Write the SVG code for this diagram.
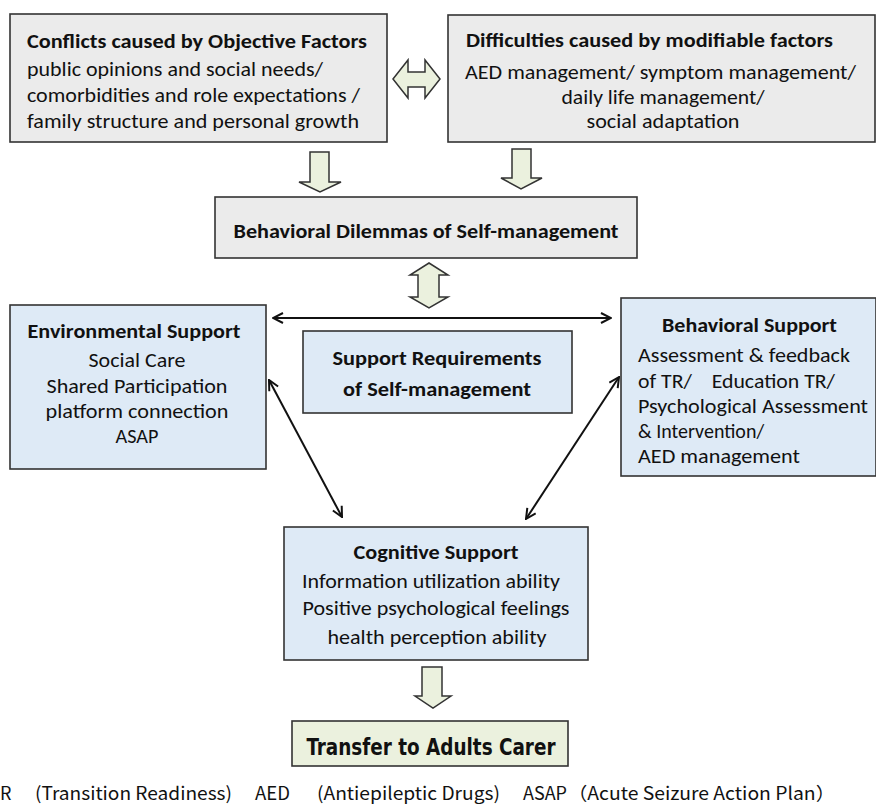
<svg xmlns="http://www.w3.org/2000/svg" width="876" height="806" viewBox="0 0 876 806">
<style>
.gray{fill:#ebebeb;stroke:#333;stroke-width:1.6}
.blue{fill:#deeaf6;stroke:#333;stroke-width:1.6}
.green{fill:#ebf1de;stroke:#333;stroke-width:1.6}
.blk{fill:#ebf1de;stroke:#333;stroke-width:1.5;stroke-linejoin:miter}
text{font-family:Carlito,"Open Sans","Liberation Sans",sans-serif;font-size:20px;fill:#111}
.b{font-weight:bold}
.c{text-anchor:middle}
.tr{font-family:"DejaVu Sans Condensed","Noto Sans CJK SC",sans-serif;font-weight:bold;font-size:23px}
.ft{font-family:"Noto Sans CJK SC","DejaVu Sans Condensed",sans-serif;font-size:18px}
.ln{stroke:#111;stroke-width:2;fill:none}
</style>
<defs>
<marker id="ah" viewBox="0 0 12 12" refX="11" refY="6" markerWidth="12" markerHeight="12" markerUnits="userSpaceOnUse" orient="auto-start-reverse">
<path d="M1,1 L11,6 L1,11" fill="none" stroke="#111" stroke-width="2"/>
</marker>
</defs>
<rect width="876" height="806" fill="#fff"/>

<g id="connectors">
<polygon class="blk" points="393,79 408,60 408,72 425,72 425,60 440,79 425,98 425,87 408,87 408,98"/>
<polygon class="blk" points="310,152 329,152 329,182 341,182 320,192 299,182 310,182"/>
<polygon class="blk" points="512,149 531,149 531,178 542,178 521,189 501,178 512,178"/>
<polygon class="blk" points="429,263 448,275 439,275 439,297 448,297 429,308 410,297 418,297 418,275 410,275"/>
<polygon class="blk" points="422,667 442,667 442,696 451,696 433,708 415,696 422,696"/>
<line class="ln" x1="273" y1="318" x2="611" y2="318" marker-start="url(#ah)" marker-end="url(#ah)"/>
<line class="ln" x1="269" y1="380" x2="342" y2="517" marker-start="url(#ah)" marker-end="url(#ah)"/>
<line class="ln" x1="619" y1="377" x2="526" y2="519" marker-start="url(#ah)" marker-end="url(#ah)"/>
</g>

<g id="objective">
<rect class="gray" x="10" y="14" width="377" height="128"/>
<text class="b" x="27" y="48" textLength="340" lengthAdjust="spacingAndGlyphs">Conflicts caused by Objective Factors</text>
<text x="27" y="76" textLength="296" lengthAdjust="spacingAndGlyphs">public opinions and social needs/</text>
<text x="27" y="102" textLength="333" lengthAdjust="spacingAndGlyphs">comorbidities and role expectations /</text>
<text x="27" y="128" textLength="332" lengthAdjust="spacingAndGlyphs">family structure and personal growth</text>
</g>

<g id="modifiable">
<rect class="gray" x="448" y="15" width="427" height="127"/>
<text class="b" x="466" y="47" textLength="367" lengthAdjust="spacingAndGlyphs">Difficulties caused by modifiable factors</text>
<text x="465" y="79" textLength="391" lengthAdjust="spacingAndGlyphs">AED management/ symptom management/</text>
<text class="c" x="663" y="104" textLength="203" lengthAdjust="spacingAndGlyphs">daily life management/</text>
<text class="c" x="663" y="128" textLength="153" lengthAdjust="spacingAndGlyphs">social adaptation</text>
</g>

<g id="dilemmas">
<rect class="gray" x="215" y="197" width="422" height="61"/>
<text class="b c" x="426" y="238" textLength="385" lengthAdjust="spacingAndGlyphs">Behavioral Dilemmas of Self-management</text>
</g>

<g id="environmental">
<rect class="blue" x="10" y="305" width="256" height="164"/>
<text class="b c" x="134" y="338" textLength="213" lengthAdjust="spacingAndGlyphs">Environmental Support</text>
<text class="c" x="137" y="367" textLength="97" lengthAdjust="spacingAndGlyphs">Social Care</text>
<text class="c" x="137" y="393" textLength="181" lengthAdjust="spacingAndGlyphs">Shared Participation</text>
<text class="c" x="137" y="418" textLength="183" lengthAdjust="spacingAndGlyphs">platform connection</text>
<text class="c" x="137" y="443" textLength="43" lengthAdjust="spacingAndGlyphs">ASAP</text>
</g>

<g id="requirements">
<rect class="blue" x="303" y="331" width="269" height="82"/>
<text class="b c" x="437" y="365" textLength="209" lengthAdjust="spacingAndGlyphs">Support Requirements</text>
<text class="b c" x="437" y="396" textLength="188" lengthAdjust="spacingAndGlyphs">of Self-management</text>
</g>

<g id="behavioral">
<rect class="blue" x="621" y="298" width="255" height="178"/>
<text class="b" x="662" y="332" textLength="175" lengthAdjust="spacingAndGlyphs">Behavioral Support</text>
<text x="638" y="362" textLength="212" lengthAdjust="spacingAndGlyphs">Assessment &amp; feedback</text>
<text x="638" y="388" textLength="197" lengthAdjust="spacingAndGlyphs" xml:space="preserve">of TR/    Education TR/</text>
<text x="638" y="413" textLength="230" lengthAdjust="spacingAndGlyphs">Psychological Assessment</text>
<text x="638" y="438">&amp; Intervention/</text>
<text x="638" y="463" textLength="162" lengthAdjust="spacingAndGlyphs">AED management</text>
</g>

<g id="cognitive">
<rect class="blue" x="284" y="527" width="304" height="133"/>
<text class="b c" x="436" y="559" textLength="165" lengthAdjust="spacingAndGlyphs">Cognitive Support</text>
<text class="c" x="431" y="588" textLength="258" lengthAdjust="spacingAndGlyphs">Information utilization ability</text>
<text class="c" x="436" y="615" textLength="267" lengthAdjust="spacingAndGlyphs">Positive psychological feelings</text>
<text class="c" x="437" y="644" textLength="219" lengthAdjust="spacingAndGlyphs">health perception ability</text>
</g>

<g id="transfer">
<rect class="green" x="292" y="721" width="276" height="45"/>
<text class="tr c" x="431" y="755" textLength="249" lengthAdjust="spacingAndGlyphs">Transfer to Adults Carer</text>
</g>

<g id="footer">
<text class="ft" x="0" y="800">R</text>
<text class="ft" x="35" y="800" textLength="197" lengthAdjust="spacingAndGlyphs">(Transition Readiness)</text>
<text class="ft" x="255" y="800" textLength="35" lengthAdjust="spacingAndGlyphs">AED</text>
<text class="ft" x="317" y="800" textLength="183" lengthAdjust="spacingAndGlyphs">(Antiepileptic Drugs)</text>
<text class="ft" x="523" y="800" textLength="44" lengthAdjust="spacingAndGlyphs">ASAP</text>
<text class="ft" x="568" y="800" textLength="267" lengthAdjust="spacingAndGlyphs">（Acute Seizure Action Plan）</text>
</g>
</svg>
